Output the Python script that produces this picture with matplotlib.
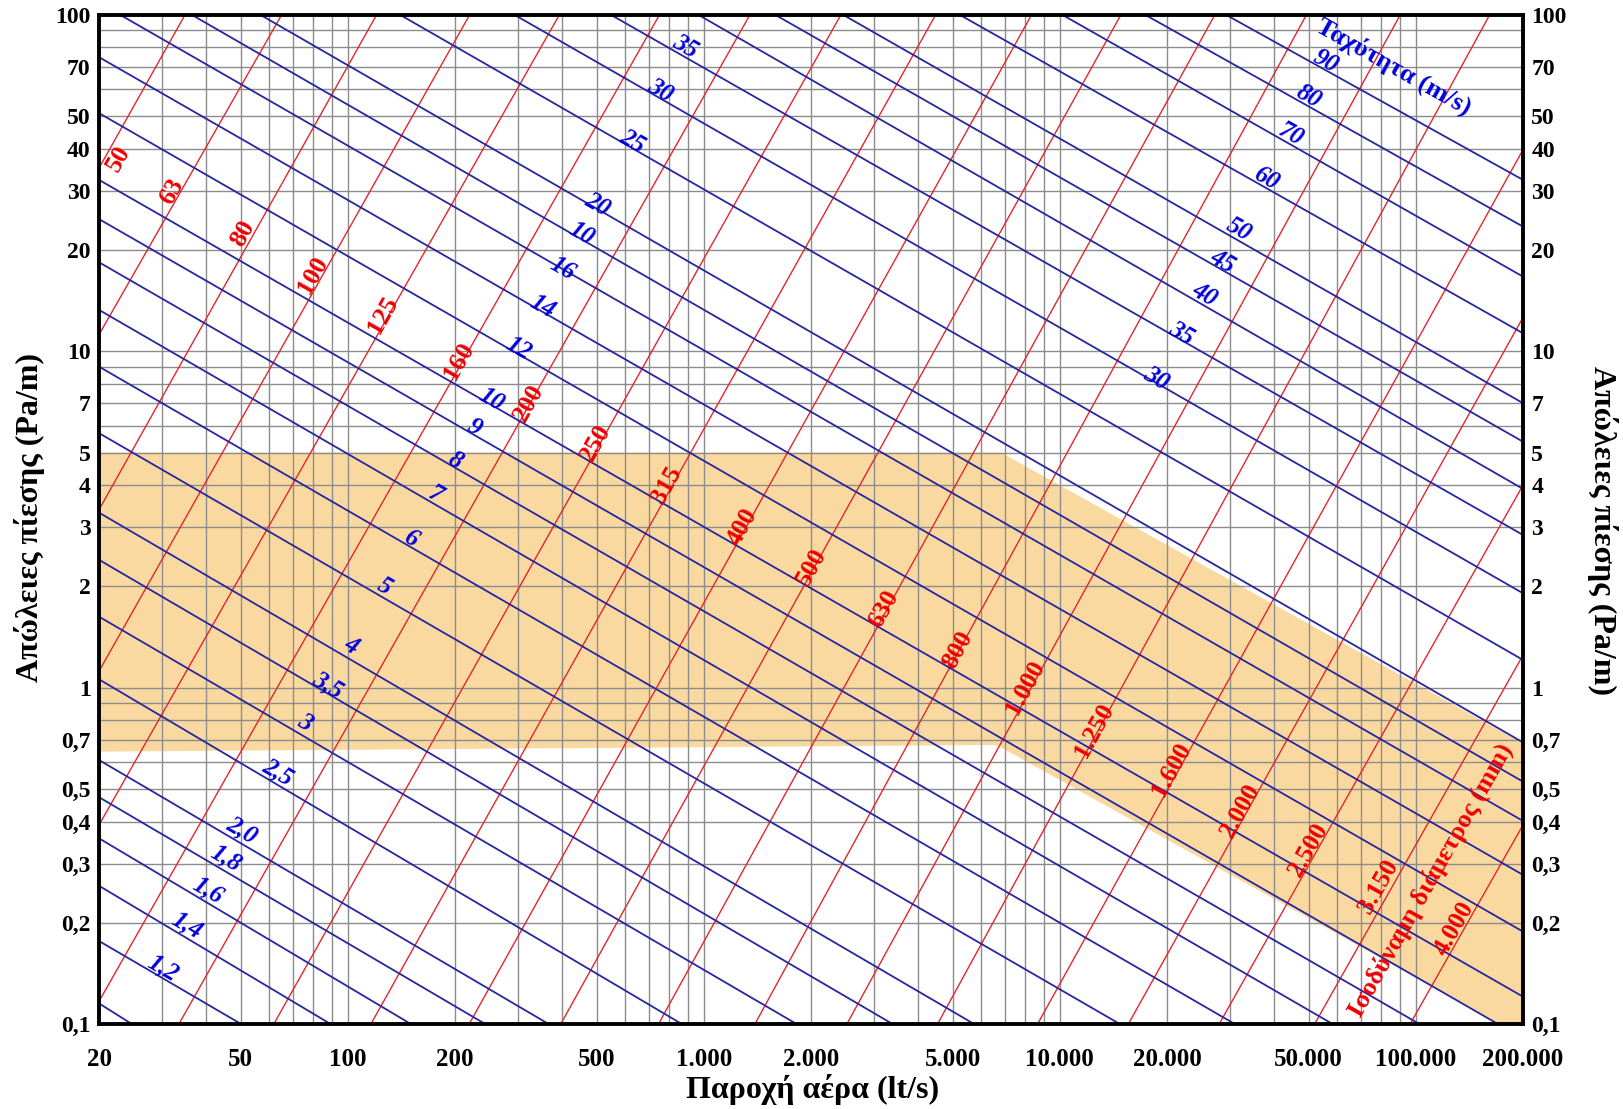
import numpy as np
import matplotlib
matplotlib.use("Agg")
from matplotlib import pyplot as plt
from matplotlib.ticker import FixedLocator, NullFormatter

plt.rcParams['font.family'] = ['Liberation Serif', 'DejaVu Serif']
plt.rcParams['font.weight'] = 'bold'

# equal-diameter lines (mm): end points (flow lt/s, loss Pa/m)
red_diam = ['50', '63', '80', '100', '125', '160', '200', '250', '315', '400',
            '500', '630', '800', '1.000', '1.250', '1.600', '2.000', '2.500', '3.150', '4.000']
red_q0 = [20, 20, 20, 20, 20, 20, 33.5, 61.9, 116, 219,
          396, 745, 1390, 2520, 4530, 8650, 15560, 28000, 51900, 96250]
red_r0 = [35.0, 11.2, 3.38, 1.12, 0.391, 0.117, 0.1, 0.1, 0.1, 0.1,
          0.1, 0.1, 0.1, 0.1, 0.1, 0.1, 0.1, 0.1, 0.1, 0.1]
red_q1 = [34.9, 65.2, 120.5, 220, 393, 751, 1348, 2428, 4481, 8331,
          14850, 27260, 49300, 90440, 161300, 200000, 200000, 200000, 200000, 200000]
red_r1 = [100, 100, 100, 100, 100, 100, 100, 100, 100, 100,
          100, 100, 100, 100, 100, 39.7, 12.6, 4.0, 1.25, 0.391]
red_lbl_q = [22.7, 32.1, 50.7, 80.0, 125.3, 205, 322, 497, 788, 1281,
             2005, 3204, 5159, 7986, 12470, 20550, 32110, 50020, 78560, 128000]
red_lbl_r = [37.3, 29.8, 22.4, 16.9, 12.8, 9.36, 7.01, 5.33, 4.01, 3.01,
             2.28, 1.72, 1.30, 1.0, 0.749, 0.570, 0.433, 0.330, 0.256, 0.193]

# constant-velocity lines (m/s)
blue_q0 = [20, 20, 20, 20, 20, 20, 20, 20, 20, 20, 20, 20, 20, 20, 20, 20, 20, 20,
           22.9, 36.4, 56.7, 140, 293.5, 547.5, 964, 1585, 2459, 5228, 10150, 17350, 29260]
blue_r0 = [0.1154, 0.1768, 0.258, 0.357, 0.473, 0.61, 1.06, 1.627, 2.40, 3.315,
           5.71, 9.0, 13.27, 18.38, 24.7, 32.3, 51.0, 74.8,
           100, 100, 100, 100, 100, 100, 100, 100, 100, 100, 100, 100, 100]
blue_q1 = [24.8, 50.3, 89.7, 150.8, 244, 367.6, 870, 1828, 3401, 5762, 14785,
           31110, 58560, 102700, 170600,
           200000, 200000, 200000, 200000, 200000, 200000, 200000, 200000,
           200000, 200000, 200000, 200000, 200000, 200000, 200000, 200000]
blue_r1 = [0.1, 0.1, 0.1, 0.1, 0.1, 0.1, 0.1, 0.1, 0.1, 0.1, 0.1, 0.1, 0.1, 0.1, 0.1,
           0.1208, 0.1885, 0.278, 0.402, 0.526, 0.688, 1.21, 1.909, 2.845, 3.898,
           5.385, 7.01, 11.31, 16.66, 23.46, 32.3]

blue_lbl = ['1,2', '1,4', '1,6', '1,8', '2,0', '2,5', '3', '3,5', '4', '5', '6', '7',
            '8', '9', '10', '12', '14', '16', '10', '20', '25', '30', '35',
            '30', '35', '40', '45', '50', '60', '70', '80', '90']
blue_lbl_line = [1, 2, 3, 4, 5, 6, 7, 8, 9, 10, 11, 12,
                 13, 14, 15, 16, 17, 18, 19, 20, 21, 22, 23,
                 22, 23, 24, 25, 26, 27, 28, 29, 30]
blue_lbl_q = [30.3, 35.3, 40.6, 45.5, 50.5, 63.8, 75.8, 88.1, 101.9, 126.4, 150.2, 176.5,
              200.6, 226.6, 252.6, 301.8, 351.3, 400.9, 453.1, 502.6, 628.7, 756.5, 885.3,
              18720, 21940, 25410, 28680, 31840, 38050, 44660, 50020, 55960]
blue_lbl_r = [0.147, 0.197, 0.251, 0.311, 0.378, 0.563, 0.788, 1.019, 1.331, 1.997, 2.772, 3.741,
              4.73, 5.945, 7.2, 10.2, 13.57, 17.65, 22.42, 27.22, 41.97, 59.5, 80.4,
              8.31, 11.31, 14.7, 18.46, 22.94, 32.67, 43.9, 57.1, 72.5]

# recommended zone
band_q = [20, 6836, 200000, 200000, 172400, 6645, 20]
band_r = [5, 5, 0.684, 0.1, 0.1, 0.676, 0.646]

x_major = [20, 50, 100, 200, 500, 1000, 2000, 5000, 10000, 20000, 50000, 100000, 200000]
x_labels = ['20', '50', '100', '200', '500', '1.000', '2.000', '5.000', '10.000',
            '20.000', '50.000', '100.000', '200.000']
y_major = [0.1, 0.2, 0.3, 0.4, 0.5, 0.7, 1, 2, 3, 4, 5, 7, 10, 20, 30, 40, 50, 70, 100]
y_labels = ['0,1', '0,2', '0,3', '0,4', '0,5', '0,7', '1', '2', '3', '4', '5', '7',
            '10', '20', '30', '40', '50', '70', '100']

fig = plt.figure(figsize=(16.24, 11.09), dpi=100)
ax = fig.add_axes([99 / 1624, 84.7 / 1109, 1424 / 1624, 1009.6 / 1109])
ax.set_xscale('log')
ax.set_yscale('log')
ax.set_xlim(20, 200000)
ax.set_ylim(0.1, 100)

ax.fill(band_q, band_r, color='#fad9a1', lw=0, zorder=0.5)

x_minor = [m * 10 ** e for e in range(1, 6) for m in range(1, 10)
           if 20 <= m * 10 ** e <= 200000 and m * 10 ** e not in x_major]
y_minor = [m * 10.0 ** e for e in range(-1, 2) for m in range(1, 10)
           if m * 10.0 ** e not in y_major and m * 10.0 ** e <= 100]
ax.set_xticks(x_major, x_labels)
ax.set_yticks(y_major, y_labels)
ax.xaxis.set_minor_locator(FixedLocator(x_minor))
ax.yaxis.set_minor_locator(FixedLocator(y_minor))
ax.xaxis.set_minor_formatter(NullFormatter())
ax.yaxis.set_minor_formatter(NullFormatter())
ax.grid(True, which='both', color='#8c8c8c', lw=1.0, zorder=1)
ax.tick_params(which='both', length=0)
ax.tick_params(axis='y', labelright=True, labelsize=17, pad=6)
ax.tick_params(axis='x', labelsize=18, pad=17)
for s in ax.spines.values():
    s.set_linewidth(2.8)
    s.set_zorder(5)

for i in range(len(red_q0)):
    ax.plot([red_q0[i], red_q1[i]], [red_r0[i], red_r1[i]], color='#e3262c', lw=1.0, zorder=2)
for i in range(len(blue_q0)):
    ax.plot([blue_q0[i], blue_q1[i]], [blue_r0[i], blue_r1[i]], color='#26269e', lw=1.3, zorder=2)


def angle(qa, ra, qb, rb):
    p = ax.transData.transform([(qa, ra), (qb, rb)])
    return np.degrees(np.arctan2(p[1, 1] - p[0, 1], p[1, 0] - p[0, 0]))


for i in range(len(red_diam)):
    a = angle(red_q0[i], red_r0[i], red_q1[i], red_r1[i])
    ax.text(red_lbl_q[i], red_lbl_r[i], red_diam[i], color='#ee0000', fontsize=18.5,
            rotation=a, rotation_mode='anchor', ha='center', va='center', zorder=4)

for k in range(len(blue_lbl)):
    i = blue_lbl_line[k]
    a = angle(blue_q0[i], blue_r0[i], blue_q1[i], blue_r1[i])
    ax.text(blue_lbl_q[k], blue_lbl_r[k], blue_lbl[k], color='#0000dd', fontsize=18,
            style='italic', rotation=a, rotation_mode='anchor', ha='center', va='center',
            zorder=4)

a = angle(blue_q0[29], blue_r0[29], blue_q1[29], blue_r1[29])
ax.text(86730, 70.1, 'Ταχύτητα (m/s)', color='#0000dd', fontsize=19,
        rotation=a, rotation_mode='anchor', ha='center', va='center', zorder=4)
a = angle(red_q0[18], red_r0[18], red_q1[18], red_r1[18])
ax.text(110300, 0.2684, 'Ισοδύναμη διάμετρος (mm)', color='#ee0000', fontsize=19,
        rotation=a, rotation_mode='anchor', ha='center', va='center', zorder=4)

fig.text(813 / 1624, 1 - 1089.5 / 1109, 'Παροχή αέρα (lt/s)', fontsize=23,
         ha='center', va='center')
fig.text(30 / 1624, 1 - 518 / 1109, 'Απώλειες πίεσης (Pa/m)', fontsize=23,
         rotation=90, ha='center', va='center')
fig.text(1603 / 1624, 1 - 531 / 1109, 'Απώλειες πίεσης (Pa/m)', fontsize=23,
         rotation=270, ha='center', va='center')

fig.savefig('out.png', dpi=100)
